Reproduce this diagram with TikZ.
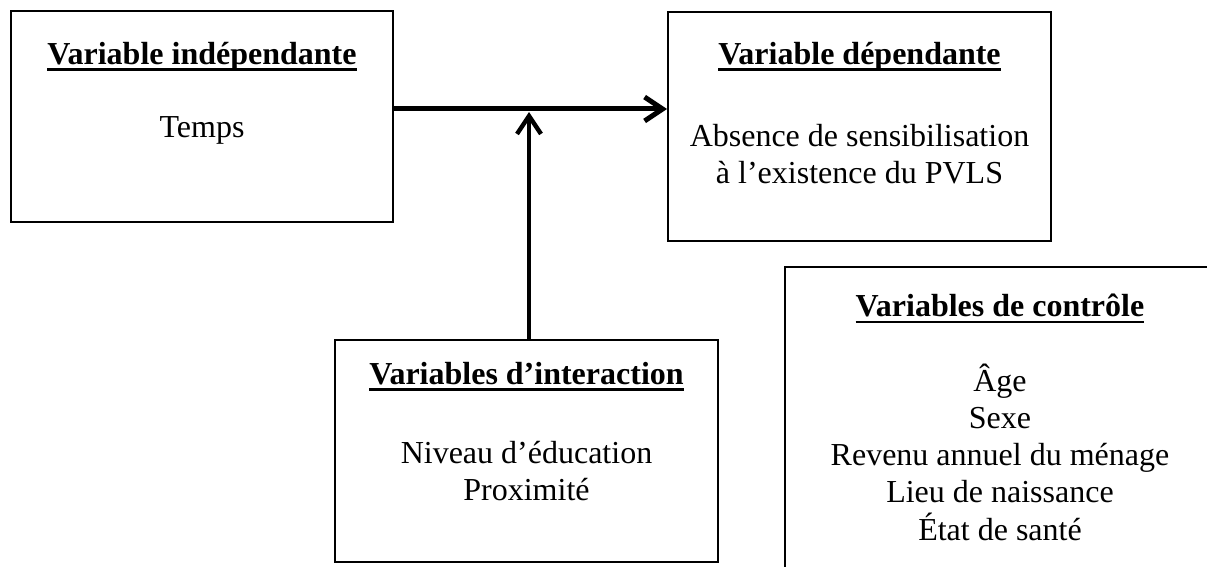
\documentclass[tikz,border=0pt]{standalone}
\usepackage{fontspec}
\setmainfont{Liberation Serif}
\usetikzlibrary{arrows.meta,positioning}
\newcommand{\titre}[1]{{\bfseries\setbox0\hbox{#1}\rlap{\rule[-3.6pt]{\wd0}{1.4pt}}\box0}}
\newcommand{\lignes}[1]{\begin{tabular}[t]{@{}c@{}}#1\end{tabular}}

\begin{document}
\begin{tikzpicture}[x=0.5pt, y=-0.5pt, font=\fontsize{16}{18.5}\selectfont,
    cadre/.style = {draw, line width=0.9pt, inner sep=0pt},
    entete/.style = {anchor=base},
    corps/.style = {anchor=base},
    fleche/.style = {-{Straight Barb[length=9pt,width=12pt]}}]
    \clip (0,0) rectangle (1207,567);
    % cadres
    \node[cadre, minimum width=191pt, minimum height=105.5pt] (indep) at (202,116.5) {};
    \node[cadre, minimum width=191.5pt, minimum height=114.5pt] (dep) at (859.5,126.5) {};
    \node[cadre, minimum width=191.5pt, minimum height=111pt] (inter) at (526.5,451) {};
    \node[cadre, minimum width=215pt, minimum height=156.5pt] (ctrl) at (1000,423.5) {};
    % textes
    \node[entete] (indepT) at ([yshift=-27pt]indep.north) {\titre{Variable indépendante}};
    \node[corps] (indepC) at ([yshift=-63.5pt]indep.north) {Temps};
    \node[entete] (depT) at ([yshift=-26.5pt]dep.north) {\titre{Variable dépendante}};
    \node[corps] (depC) at ([yshift=-67.5pt]dep.north) {\lignes{Absence de sensibilisation\\à l’existence du PVLS}};
    \node[entete] (interT) at ([yshift=-22.5pt]inter.north) {\titre{Variables d’interaction}};
    \node[corps] (interC) at ([yshift=-62pt]inter.north) {\lignes{Niveau d’éducation\\Proximité}};
    \node[entete] (ctrlT) at ([yshift=-25pt]ctrl.north) {\titre{Variables de contrôle}};
    \node[corps] (ctrlC) at ([yshift=-62.5pt]ctrl.north) {\lignes{Âge\\Sexe\\Revenu annuel du ménage\\Lieu de naissance\\État de santé}};
    % fleches
    \coordinate (jonction) at (529,109);
    \draw[fleche, line width=2.5pt] (indep.east |- jonction) -- (dep.west |- jonction);
    \draw[fleche, line width=2.2pt] (inter.north -| jonction) -- ([yshift=-1.5pt]jonction);
\end{tikzpicture}
\end{document}
